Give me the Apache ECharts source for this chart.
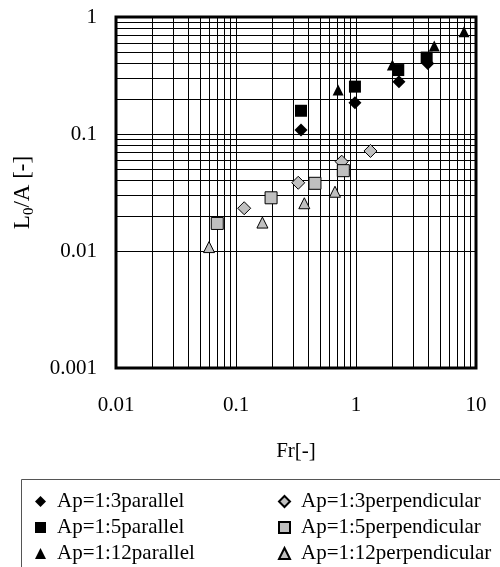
<!DOCTYPE html>
<html>
<head>
<meta charset="utf-8">
<script src="https://cdn.jsdelivr.net/npm/echarts@6/dist/echarts.min.js"></script>
<style>
html,body{margin:0;padding:0;background:#fff;}
#chart{width:500px;height:567px;}
</style>
</head>
<body>
<div id="chart"></div>
<script>
// ---- data ----
const seriesNames = ['Ap=1:3parallel','Ap=1:5parallel','Ap=1:12parallel','Ap=1:3perpendicular','Ap=1:5perpendicular','Ap=1:12perpendicular'];
const ap3parX = [0.348, 0.98, 2.28, 3.96];
const ap3parY = [0.108, 0.185, 0.28, 0.40];
const ap5parX = [0.348, 0.98, 2.25, 3.88];
const ap5parY = [0.158, 0.254, 0.352, 0.45];
const ap12parX = [0.71, 2.01, 4.49, 7.94];
const ap12parY = [0.238, 0.389, 0.565, 0.749];
const ap3perX = [0.117, 0.330, 0.76, 1.32];
const ap3perY = [0.0232, 0.0383, 0.058, 0.0716];
const ap5perX = [0.0698, 0.196, 0.455, 0.784];
const ap5perY = [0.0172, 0.0285, 0.0379, 0.0486];
const ap12perX = [0.0596, 0.166, 0.371, 0.668];
const ap12perY = [0.0108, 0.0175, 0.0256, 0.0321];
const xTickLabels = ['0.01','0.1','1','10'];
const yTickLabels = ['0.001','0.01','0.1','1'];
const xMinorGrid = [0.02,0.03,0.04,0.05,0.06,0.07,0.08,0.09,0.2,0.3,0.4,0.5,0.6,0.7,0.8,0.9,2,3,4,5,6,7,8,9];
const yMinorGrid = [0.002,0.003,0.004,0.005,0.006,0.007,0.008,0.009,0.02,0.03,0.04,0.05,0.06,0.07,0.08,0.09,0.2,0.3,0.4,0.5,0.6,0.7,0.8,0.9];

const pair = (xs, ys) => xs.map((x, i) => [x, ys[i]]);
const FONT = '"Liberation Serif", "Times New Roman", serif';
const fmt = (v, labels) => {
  const s = String(+(+v).toPrecision(3));
  const i = labels.indexOf(s);
  return i >= 0 ? labels[i] : s;
};

const mk = (name, data, symbol, size, fill) => ({
  name, type: 'scatter', data, symbol, symbolSize: size, symbolKeepAspect: true,
  itemStyle: { color: fill, opacity: 1, borderColor: '#000', borderWidth: fill === '#000' ? 0 : 1 },
  emphasis: { disabled: true }, z: 5
});

const gridLines = [];
xMinorGrid.forEach(v => gridLines.push({ xAxis: v }));
yMinorGrid.forEach(v => gridLines.push({ yAxis: v }));

const series = [
  mk(seriesNames[0], pair(ap3parX, ap3parY), 'diamond', 13, '#000'),
  mk(seriesNames[1], pair(ap5parX, ap5parY), 'rect', 12, '#000'),
  mk(seriesNames[2], pair(ap12parX, ap12parY), 'triangle', 11, '#000'),
  mk(seriesNames[3], pair(ap3perX, ap3perY), 'diamond', 13, '#c0c0c0'),
  mk(seriesNames[4], pair(ap5perX, ap5perY), 'rect', 12, '#c0c0c0'),
  mk(seriesNames[5], pair(ap12perX, ap12perY), 'triangle', 11, '#c0c0c0'),
  {
    name: 'grid', type: 'scatter', data: [], silent: true, z: 1,
    markLine: {
      silent: true, symbol: ['none', 'none'], animation: false,
      label: { show: false },
      lineStyle: { color: '#000', width: 1, type: 'solid' },
      emphasis: { disabled: true },
      data: gridLines
    }
  }
];

const legendCommon = {
  orient: 'vertical', itemWidth: 11, itemHeight: 11, itemGap: 5, padding: 0,
  height: 80,
  textStyle: { fontFamily: FONT, fontSize: 21, color: '#000', padding: [0, 0, 0, 6] },
  selectedMode: false
};

const chart = echarts.init(document.getElementById('chart'), null, { renderer: 'canvas' });
chart.setOption({
  animation: false,
  backgroundColor: '#fff',
  textStyle: { fontFamily: FONT },
  grid: { left: 116, top: 17, width: 360, height: 351, show: true, borderColor: '#000', borderWidth: 3, backgroundColor: 'transparent', z: 10 },
  xAxis: {
    type: 'log', logBase: 10, min: 0.01, max: 10,
    axisLine: { show: false }, axisTick: { show: false },
    splitLine: { show: true, lineStyle: { color: '#000', width: 1 } },
    axisLabel: { fontFamily: FONT, fontSize: 21, color: '#000', margin: 27, formatter: v => fmt(v, xTickLabels) },
    name: 'Fr[-]', nameLocation: 'middle', nameGap: 73,
    nameTextStyle: { fontFamily: FONT, fontSize: 21, color: '#000' }
  },
  yAxis: {
    type: 'log', logBase: 10, min: 0.001, max: 1,
    axisLine: { show: false }, axisTick: { show: false },
    splitLine: { show: true, lineStyle: { color: '#000', width: 1 } },
    axisLabel: { fontFamily: FONT, fontSize: 21, color: '#000', margin: 19, formatter: v => fmt(v, yTickLabels) },
    name: '{a|L}{b|0}{a|/A [-]}', nameLocation: 'middle', nameRotate: 90, nameGap: 82,
    nameTextStyle: {
      fontFamily: FONT, fontSize: 23, color: '#000',
      rich: {
        a: { fontFamily: FONT, fontSize: 23, color: '#000', verticalAlign: 'bottom', lineHeight: 26 },
        b: { fontFamily: FONT, fontSize: 15, color: '#000', verticalAlign: 'bottom', lineHeight: 26, padding: [0, 0, -3, 0] }
      }
    }
  },
  legend: [
    Object.assign({}, legendCommon, { left: 35, top: 491, data: seriesNames.slice(0, 3) }),
    Object.assign({}, legendCommon, { left: 278, top: 491, data: seriesNames.slice(3, 6) })
  ],
  graphic: [{
    type: 'rect', left: 21, top: 479, z: -1,
    shape: { width: 500, height: 120 },
    style: { fill: '#fff', stroke: '#555', lineWidth: 1 }
  }],
  series
});
</script>
</body>
</html>
